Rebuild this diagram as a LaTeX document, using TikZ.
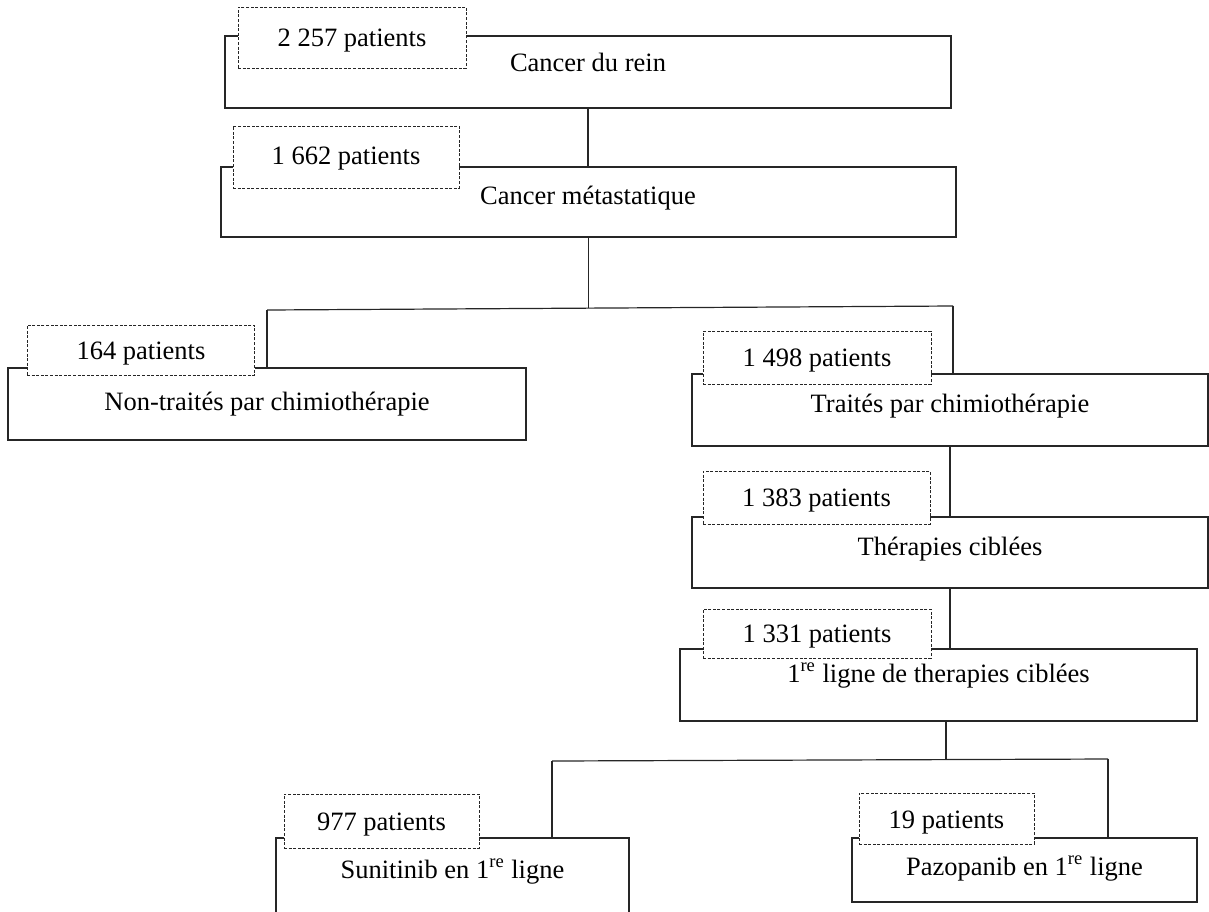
\documentclass[tikz,border=0pt]{standalone}
\usepackage{fontspec}
\setmainfont{Liberation Serif}
\usetikzlibrary{fit}
\begin{document}
\begin{tikzpicture}[x=0.5pt,y=-0.5pt,
  font=\fontsize{13.25}{15}\selectfont,
  box/.style={draw=black!85, line width=0.6pt, inner sep=0pt, outer sep=0pt},
  nbox/.style={draw=black!85, dash pattern=on 1.5pt off 0.8pt, line width=0.5pt, fill=white, inner sep=0pt, outer sep=0pt},
  conn/.style={draw=black!85, line width=0.6pt},
  lbl/.style={anchor=base, inner sep=0pt, outer sep=0pt}]
\useasboundingbox (0,0) rectangle (1209,911);

% main boxes
\node[box, fit={(225,36) (951,108)}] (A) {};
\node[box, fit={(221,167) (956,237)}] (B) {};
\node[box, fit={(8,368) (526,440)}] (C) {};
\node[box, fit={(692,374) (1208,446)}] (D) {};
\node[box, fit={(692,517) (1208,588)}] (E) {};
\node[box, fit={(680,649) (1197,721)}] (F) {};
\node[box, fit={(276,838) (629,918)}] (G) {};
\node[box, fit={(852,838) (1197,902)}] (H) {};

% junction coordinates
\coordinate (sM) at (588.5,307.5);
\coordinate (sL) at (267,310);
\coordinate (sR) at (953,306);
\coordinate (tM) at (946,760);
\coordinate (tL) at (552,761);
\coordinate (tR) at (1108,759);

% connectors
\draw[conn] (A.south) -- (A.south |- B.north);
\draw[conn] (B.south) -- (sM);
\draw[conn] (sL) -- (sR);
\draw[conn] (sL) -- (sL |- C.north);
\draw[conn] (sR) -- (sR |- D.north);
\draw[conn] (D.south) -- (D.south |- E.north);
\draw[conn] (E.south) -- (E.south |- F.north);
\draw[conn] (F.south -| tM) -- (tM);
\draw[conn] (tL) -- (tR);
\draw[conn] (tL) -- (tL |- G.north);
\draw[conn] (tR) -- (tR |- H.north);

% dashed count boxes
\node[nbox, fit={(238,7) (466,68)}] (An) {};
\node[nbox, fit={(233,126) (459,188)}] (Bn) {};
\node[nbox, fit={(27,325) (254.5,375)}] (Cn) {};
\node[nbox, fit={(703,331) (931,384)}] (Dn) {};
\node[nbox, fit={(703,471) (930,524)}] (En) {};
\node[nbox, fit={(703,609) (931,658)}] (Fn) {};
\node[nbox, fit={(284,794) (479,848)}] (Gn) {};
\node[nbox, fit={(859,793) (1034,844)}] (Hn) {};

% texts
\node[lbl] (An-t) at (352,46) {2~257 patients};
\node[lbl] (A-t) at (588,71) {Cancer du rein};
\node[lbl] (Bn-t) at (346,164) {1~662 patients};
\node[lbl] (B-t) at (588,204) {Cancer métastatique};
\node[lbl] (Cn-t) at (141,359) {164 patients};
\node[lbl] (C-t) at (267,410) {Non-traités par chimiothérapie};
\node[lbl] (Dn-t) at (817,366) {1~498 patients};
\node[lbl] (D-t) at (950,412) {Traités par chimiothérapie};
\node[lbl] (En-t) at (816.5,506) {1~383 patients};
\node[lbl] (E-t) at (950,555) {Thérapies ciblées};
\node[lbl] (Fn-t) at (817,642) {1~331 patients};
\node[lbl] (F-t) at (938.5,682) {1\textsuperscript{re} ligne de therapies ciblées};
\node[lbl] (Gn-t) at (381.5,830) {977 patients};
\node[lbl] (G-t) at (452.5,878) {Sunitinib en 1\textsuperscript{re} ligne};
\node[lbl] (Hn-t) at (946.5,828) {19 patients};
\node[lbl] (H-t) at (1024.5,875) {Pazopanib en 1\textsuperscript{re} ligne};
\end{tikzpicture}
\end{document}
